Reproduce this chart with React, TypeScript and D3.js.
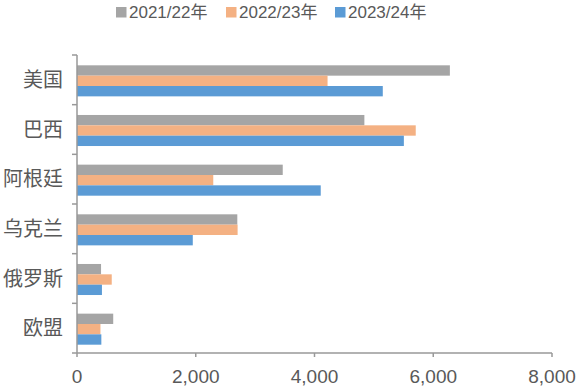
import React from "react";
import * as d3 from "d3";

const categories = ["美国", "巴西", "阿根廷", "乌克兰", "俄罗斯", "欧盟"];
const seriesNames = ["2021/22年", "2022/23年", "2023/24年"];
const values2122 = [6280, 4840, 3465, 2700, 405, 610];
const values2223 = [4220, 5705, 2295, 2705, 585, 395];
const values2324 = [5150, 5505, 4105, 1950, 420, 410];
const xTicks = [0, 2000, 4000, 6000, 8000];
const colors = ["#A5A5A5", "#F4B183", "#5B9BD5"];

const W = 576;
const H = 388;
const margin = { left: 77, right: 24, top: 55, bottom: 35 };

export default function App() {
  const seriesValues = [values2122, values2223, values2324];
  const x = d3.scaleLinear().domain([0, 8000]).range([margin.left, W - margin.right]);
  const y = d3.scaleBand<string>().domain(categories).range([margin.top, H - margin.bottom]);
  const ySub = d3
    .scaleBand<string>()
    .domain(seriesNames)
    .range([0, y.bandwidth()])
    .paddingOuter(0.9)
    .paddingInner(0);
  const fmt = d3.format(",");
  const axisColor = "#999999";
  const textColor = "#595959";
  const font = "'Liberation Sans', 'Noto Sans CJK SC', sans-serif";
  const boundaries = categories.map((c) => y(c)!).concat([H - margin.bottom]);
  const legendX = [116, 226, 335];

  return (
    <svg width={W} height={H} style={{ position: "absolute", left: 0, top: 0, background: "#fff" }}>
      {/* legend */}
      {seriesNames.map((s, i) => (
        <g key={s}>
          <rect x={legendX[i]} y={7} width={10.5} height={10.5} fill={colors[i]} />
          <text x={legendX[i] + 13} y={12.5} dy="0.35em" fontSize={17} fill={textColor} fontFamily={font}>
            {s}
          </text>
        </g>
      ))}
      {/* bars */}
      {categories.map((c, ci) => (
        <g key={c} transform={`translate(0,${y(c)! + 1})`}>
          {seriesNames.map((s, si) => (
            <rect
              key={s}
              x={x(0)}
              y={ySub(s)}
              width={x(seriesValues[si][ci]) - x(0)}
              height={ySub.bandwidth()}
              fill={colors[si]}
            />
          ))}
        </g>
      ))}
      {/* y axis */}
      <line x1={x(0)} x2={x(0)} y1={margin.top} y2={H - margin.bottom} stroke={axisColor} strokeWidth={1.5} />
      {boundaries.map((b, i) => (
        <line key={i} x1={x(0) - 5} x2={x(0)} y1={b} y2={b} stroke={axisColor} strokeWidth={1.5} />
      ))}
      {categories.map((c) => (
        <text
          key={c}
          x={63}
          y={y(c)! + y.bandwidth() / 2}
          dy="0.35em"
          textAnchor="end"
          fontSize={20}
          fill={textColor}
          fontFamily={font}
        >
          {c}
        </text>
      ))}
      {/* x axis */}
      <line x1={x(0)} x2={x(8000)} y1={H - margin.bottom} y2={H - margin.bottom} stroke={axisColor} strokeWidth={1.5} />
      {xTicks.map((t) => (
        <g key={t}>
          <line x1={x(t)} x2={x(t)} y1={H - margin.bottom} y2={H - margin.bottom + 4} stroke={axisColor} strokeWidth={1.5} />
          <text
            x={x(t)}
            y={376}
            dy="0.35em"
            textAnchor="middle"
            fontSize={19}
            fill={textColor}
            fontFamily={font}
          >
            {fmt(t)}
          </text>
        </g>
      ))}
    </svg>
  );
}
